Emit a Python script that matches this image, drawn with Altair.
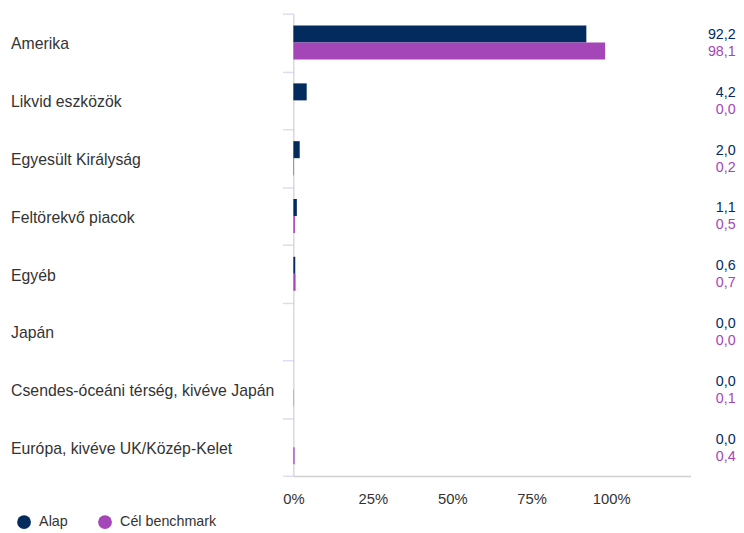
import altair as alt
import pandas as pd

FONT = "Liberation Sans, Arial, Helvetica, sans-serif"

categories = [
    "Amerika",
    "Likvid eszközök",
    "Egyesült Királyság",
    "Feltörekvő piacok",
    "Egyéb",
    "Japán",
    "Csendes-óceáni térség, kivéve Japán",
    "Európa, kivéve UK/Közép-Kelet",
]
alap = [92.2, 4.2, 2.0, 1.1, 0.6, 0.0, 0.0, 0.0]
cel = [98.1, 0.0, 0.2, 0.5, 0.7, 0.0, 0.1, 0.4]
series = ["Alap", "Cél benchmark"]
colors = ["#032b5e", "#a546b8"]
x_ticks = [0, 25, 50, 75, 100]

rows = []
for c, a, b in zip(categories, alap, cel):
    rows.append({"cat": c, "series": series[0], "value": a})
    rows.append({"cat": c, "series": series[1], "value": b})
df = pd.DataFrame(rows)
df["label"] = df["value"].map(lambda v: f"{v:.1f}".replace(".", ","))

W = 402.3
H = 468.3

y_enc = alt.Y(
    "cat:N",
    sort=categories,
    scale=alt.Scale(paddingInner=0, paddingOuter=0),
    axis=alt.Axis(
        title=None,
        tickBand="extent",
        domainColor="#d0d0d0",
        domainWidth=1.2,
        tickColor="#d9dff0",
        tickSize=11,
        tickWidth=1.5,
        labelAlign="left",
        labelPadding=275.4,
        labelOffset=1.5,
        labelLimit=330,
        labelFontSize=16,
        labelColor="#333333",
        labelFont=FONT,
        grid=False,
    ),
)
yoff = alt.YOffset(
    "series:N", sort=series, scale=alt.Scale(paddingOuter=0.7, paddingInner=0)
)
color_scale = alt.Scale(domain=series, range=colors)

bars = alt.Chart(df).mark_bar().encode(
    x=alt.X(
        "value:Q",
        scale=alt.Scale(domain=[0, 125], nice=False),
        axis=alt.Axis(
            title=None,
            values=x_ticks,
            labelExpr="datum.value + '%'",
            labelFlush=False,
            ticks=False,
            grid=False,
            domainColor="#d0d0d0",
            domainWidth=1.5,
            labelFontSize=15,
            labelColor="#333333",
            labelFont=FONT,
            labelPadding=16,
        ),
    ),
    y=y_enc,
    yOffset=yoff,
    color=alt.Color(
        "series:N",
        sort=series,
        scale=color_scale,
        legend=alt.Legend(
            title=None,
            orient="none",
            direction="horizontal",
            legendX=-280,
            legendY=507.3,
            symbolType="circle",
            symbolSize=196,
            symbolStrokeWidth=0,
            labelFontSize=14.5,
            labelFont=FONT,
            labelColor="#333333",
            labelOffset=8,
            columnPadding=30,
            padding=0,
        ),
    ),
)

texts = alt.Chart(df).mark_text(
    align="right", baseline="middle", fontSize=14.5, font=FONT, dy=1
).encode(
    x=alt.value(448),
    y=alt.Y("cat:N", sort=categories),
    yOffset=yoff,
    text="label:N",
    color=alt.Color("series:N", sort=series, scale=color_scale, legend=None),
)

chart = (
    alt.layer(bars, texts)
    .properties(
        width=W,
        height=H,
        padding={"left": 2, "top": -5.6, "right": 0, "bottom": 0},
    )
    .configure_view(stroke=None)
)

chart.save("out.html", embed_options={"renderer": "svg", "actions": False})
